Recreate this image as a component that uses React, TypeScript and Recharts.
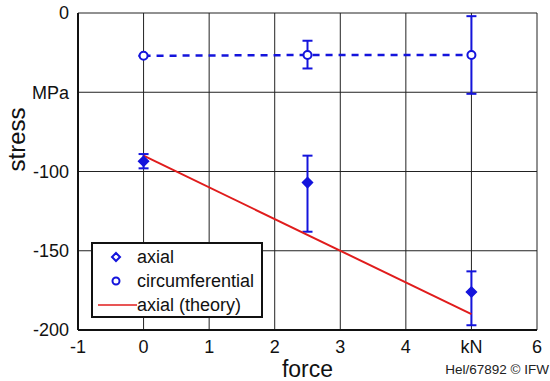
import { ScatterChart, Scatter, XAxis, YAxis, CartesianGrid, ErrorBar } from "recharts";

const forceTicks = [-1, 0, 1, 2, 3, 4, 5, 6];
const stressTicks = [-200, -150, -100, -50, 0];

const axialForce = [0, 2.5, 5];
const axialStress = [-93.5, -107, -176];
const axialLow = [-98, -138, -197];
const axialHigh = [-89, -90, -163];

const circForce = [0, 2.5, 5];
const circStress = [-27, -26.5, -26.5];
const circLow = [-27, -35, -51];
const circHigh = [-27, -17.5, -2];

const theoryForce = [0, 5];
const theoryStress = [-90, -190];

const BLUE = "#1414dc";
const RED = "#e01c1c";
const FONT = "'Liberation Sans', Arial, sans-serif";

const axial = axialForce.map((f, i) => ({
  x: f,
  y: axialStress[i],
  err: [axialStress[i] - axialLow[i], axialHigh[i] - axialStress[i]],
}));
const circ = circForce.map((f, i) => ({
  x: f,
  y: circStress[i],
  err: [circStress[i] - circLow[i], circHigh[i] - circStress[i]],
}));
const theory = theoryForce.map((f, i) => ({ x: f, y: theoryStress[i] }));

const Diamond = (props: any) => {
  const { cx, cy } = props;
  return (
    <path
      d={`M${cx},${cy - 5} L${cx + 5},${cy} L${cx},${cy + 5} L${cx - 5},${cy} Z`}
      fill={BLUE}
      stroke={BLUE}
      strokeWidth={1.5}
    />
  );
};

const Ring = (props: any) => {
  const { cx, cy } = props;
  return <circle cx={cx} cy={cy} r={4} fill="#fff" stroke={BLUE} strokeWidth={2} />;
};

const NoDot = () => <g />;

const LegendBox = () => (
  <div
    style={{
      position: "absolute",
      left: 91,
      top: 242,
      width: 172,
      height: 76,
      border: "2px solid #111",
      background: "#fff",
      fontFamily: FONT,
      fontSize: 18,
      color: "#111",
      boxSizing: "border-box",
    }}
  >
    <svg width={46} height={72} style={{ position: "absolute", left: 0, top: 0 }}>
      <path d="M23,9 L27,13 L23,17 L19,13 Z" fill="none" stroke={BLUE} strokeWidth={2} />
      <circle cx={23} cy={37} r={3.5} fill="none" stroke={BLUE} strokeWidth={2} />
      <line x1={5} y1={61} x2={44} y2={61} stroke={RED} strokeWidth={1.5} />
    </svg>
    <div style={{ position: "absolute", left: 44, top: 1, lineHeight: "24px" }}>
      <div>axial</div>
      <div>circumferential</div>
      <div>axial (theory)</div>
    </div>
  </div>
);

export default function App() {
  return (
    <div style={{ position: "absolute", left: 0, top: 0, width: 550, height: 381, background: "#fff" }}>
      <ScatterChart width={550} height={381} margin={{ top: 13, right: 13, left: 0, bottom: 21 }}>
        <CartesianGrid stroke="#222" strokeWidth={1} />
        <XAxis
          type="number"
          dataKey="x"
          domain={[-1, 6]}
          ticks={forceTicks}
          tickFormatter={(v: number) => (v === 5 ? "kN" : String(v))}
          tickLine={false}
          axisLine={{ stroke: "#111", strokeWidth: 2 }}
          tick={{ fill: "#111", fontSize: 18, fontFamily: FONT, dy: 2 }}
          height={30}
          label={{ value: "force", position: "insideBottom", offset: -17, fill: "#111", fontSize: 23, fontFamily: FONT }}
        />
        <YAxis
          type="number"
          dataKey="y"
          domain={[-200, 0]}
          ticks={stressTicks}
          tickFormatter={(v: number) => (v === -50 ? "MPa" : String(v))}
          tickLine={false}
          axisLine={{ stroke: "#111", strokeWidth: 2 }}
          tick={{ fill: "#111", fontSize: 18, fontFamily: FONT, dx: -1 }}
          width={78}
          label={{ value: "stress", angle: -90, position: "insideLeft", offset: 16, fill: "#111", fontSize: 24, fontFamily: FONT }}
        />
        <Scatter
          name="axial (theory)"
          data={theory}
          line={{ stroke: RED, strokeWidth: 2 }}
          shape={NoDot}
          isAnimationActive={false}
        />
        <Scatter
          name="circumferential"
          data={circ}
          line={{ stroke: BLUE, strokeWidth: 2.5, strokeDasharray: "7 6" }}
          shape={Ring}
          isAnimationActive={false}
        >
          <ErrorBar dataKey="err" direction="y" width={5} stroke={BLUE} strokeWidth={2} />
        </Scatter>
        <Scatter name="axial" data={axial} shape={Diamond} isAnimationActive={false}>
          <ErrorBar dataKey="err" direction="y" width={5} stroke={BLUE} strokeWidth={2} />
        </Scatter>
      </ScatterChart>
      <LegendBox />
      <div
        style={{
          position: "absolute",
          right: 1,
          top: 362,
          fontFamily: FONT,
          fontSize: 13.5,
          color: "#222",
        }}
      >
        Hel/67892 © IFW
      </div>
    </div>
  );
}
